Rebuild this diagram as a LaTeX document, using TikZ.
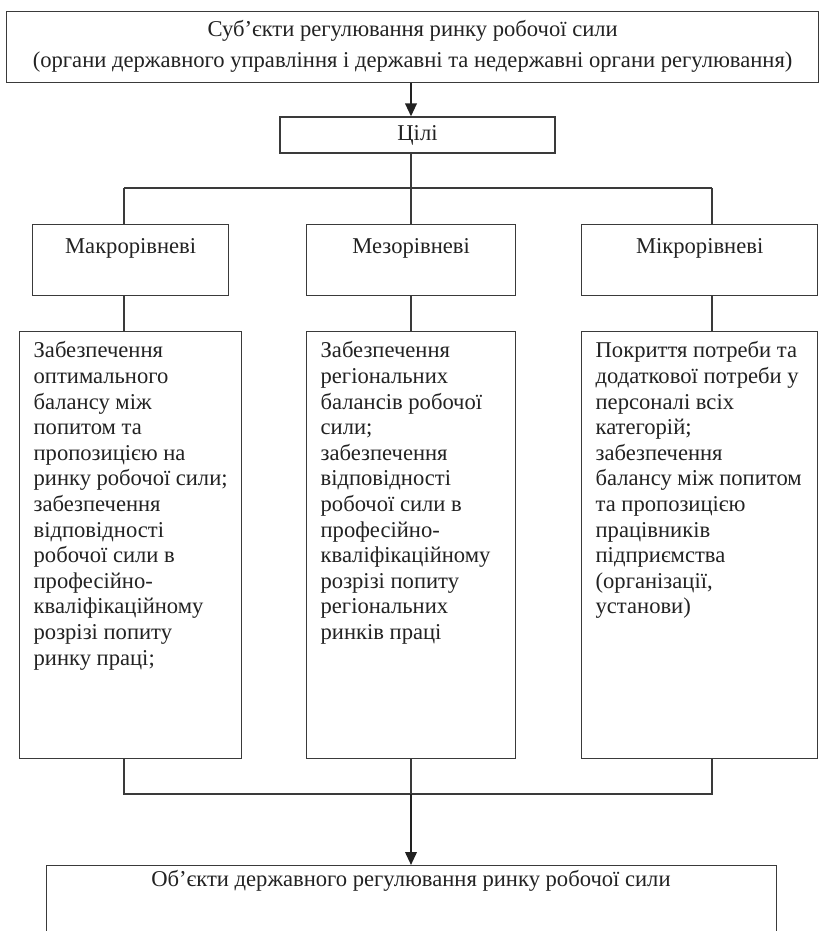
\documentclass[tikz,border=0pt]{standalone}
\usepackage{fontspec}
\setmainfont{Liberation Serif}
\usetikzlibrary{arrows.meta}
\definecolor{ink}{HTML}{222222}
\definecolor{edge}{HTML}{3A3A3A}
\tikzset{
  box/.style={draw=edge, line width=1.3pt, inner sep=0pt, text=ink},
  link/.style={draw=edge, line width=1.3pt},
  arrowlink/.style={draw=ink, line width=2.2pt, -{Triangle[length=13pt,width=11.5pt]}},
}
\newcommand{\mytxt}{\fontsize{22.6}{25.6}\selectfont}
\begin{document}
\begin{tikzpicture}[x=1pt,y=-1pt]
\useasboundingbox (0,0) rectangle (819,931);
\clip (0,0) rectangle (819,931);
\fill[white] (0,0) rectangle (819,931);
% top box
\node[box, anchor=north west] (top) at (6,11)
  {\parbox[c][71pt][t]{812pt}{\fontsize{22.6}{31}\selectfont\centering\vspace*{8.5pt}Суб’єкти регулювання ринку робочої сили\\(органи державного управління і державні та недержавні органи регулювання)\par}};
% goals
\node[box, minimum width=275pt, minimum height=36pt, font=\mytxt] (goals) at (417.5,135) {Цілі};
% level boxes
\node[box, anchor=north west] (l1) at (32,224)
  {\parbox[c][71pt][t]{196pt}{\mytxt\centering\vspace*{13.5pt}Макрорівневі\par}};
\node[box, anchor=north west] (l2) at (306,224)
  {\parbox[c][71pt][t]{209pt}{\mytxt\centering\vspace*{13.5pt}Мезорівневі\par}};
\node[box, anchor=north west] (l3) at (581,224)
  {\parbox[c][71pt][t]{236pt}{\mytxt\centering\vspace*{13.5pt}Мікрорівневі\par}};
% content boxes
\node[box, anchor=north west, inner xsep=14pt] (c1) at (19,331)
  {\parbox[c][427pt][t]{194pt}{\mytxt\raggedright\vspace*{10pt}Забезпечення\\оптимального\\балансу між\\попитом та\\пропозицією на\\ринку робочої сили;\\забезпечення\\відповідності\\робочої сили в\\професійно-\\кваліфікаційному\\розрізі попиту\\ринку праці;\par}};
\node[box, anchor=north west, inner xsep=14pt] (c2) at (306,331)
  {\parbox[c][427pt][t]{181pt}{\mytxt\raggedright\vspace*{10pt}Забезпечення\\регіональних\\балансів робочої\\сили;\\забезпечення\\відповідності\\робочої сили в\\професійно-\\кваліфікаційному\\розрізі попиту\\регіональних\\ринків праці\par}};
\node[box, anchor=north west, inner xsep=14pt] (c3) at (581,331)
  {\parbox[c][427pt][t]{208pt}{\mytxt\raggedright\vspace*{10pt}Покриття потреби та\\додаткової потреби у\\персоналі всіх\\категорій;\\забезпечення\\балансу між попитом\\та пропозицією\\працівників\\підприємства\\(організації,\\установи)\par}};
% bottom box
\node[box, anchor=north west, minimum width=730pt, minimum height=100pt] (bot) at (46,865) {};
\node[text=ink, font=\mytxt] (bottxt) at (411,881) {Об’єкти державного регулювання ринку робочої сили};
% connectors
\coordinate (mx) at (411,0);
\coordinate (b1) at (124,188);
\coordinate (b3) at (712,188);
\coordinate (d1) at (124,794);
\coordinate (d3) at (712,794);
\draw[arrowlink] (top.south -| mx) -- (goals.north -| mx);
\draw[link] (goals.south -| mx) -- (mx |- b1);
\draw[link] (b1) -- (b3);
\draw[link] (b1) -- (l1.north -| b1);
\draw[link] (mx |- b1) -- (l2.north -| mx);
\draw[link] (b3) -- (l3.north -| b3);
\draw[link] (l1.south -| b1) -- (c1.north -| b1);
\draw[link] (l2.south -| mx) -- (c2.north -| mx);
\draw[link] (l3.south -| b3) -- (c3.north -| b3);
\draw[link] (c1.south -| d1) -- (d1) -- (d3) -- (c3.south -| d3);
\draw[link] (c2.south -| mx) -- (mx |- d1);
\draw[arrowlink] (mx |- d1) -- (bot.north -| mx);
\end{tikzpicture}
\end{document}
